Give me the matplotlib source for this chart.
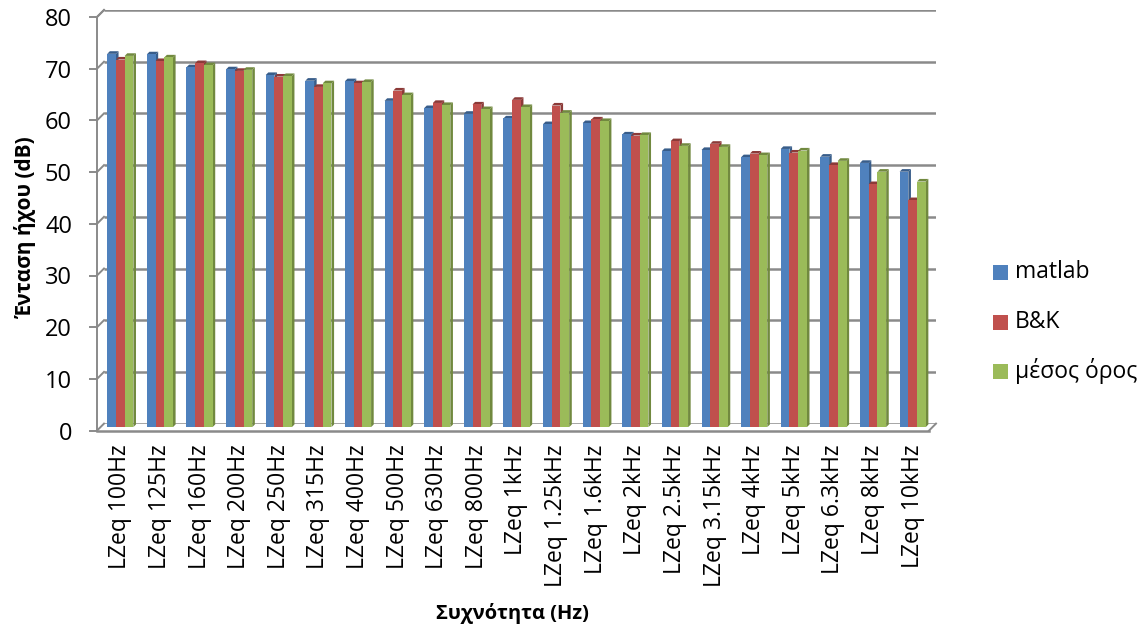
import matplotlib
matplotlib.use("Agg")
import matplotlib.pyplot as plt
from matplotlib.patches import Polygon, Rectangle
from matplotlib.transforms import ScaledTranslation

plt.rcParams['font.family'] = ['Open Sans', 'DejaVu Sans']

categories = ["LZeq 100Hz", "LZeq 125Hz", "LZeq 160Hz", "LZeq 200Hz", "LZeq 250Hz",
              "LZeq 315Hz", "LZeq 400Hz", "LZeq 500Hz", "LZeq 630Hz", "LZeq 800Hz",
              "LZeq 1kHz", "LZeq 1.25kHz", "LZeq 1.6kHz", "LZeq 2kHz", "LZeq 2.5kHz",
              "LZeq 3.15kHz", "LZeq 4kHz", "LZeq 5kHz", "LZeq 6.3kHz", "LZeq 8kHz",
              "LZeq 10kHz"]
matlab = [72.2, 72.1, 69.6, 69.2, 68.1, 67.0, 66.9, 63.1, 61.7, 60.6, 59.7,
          58.6, 58.8, 56.6, 53.4, 53.6, 52.2, 53.8, 52.3, 51.1, 49.4]
bk = [71.1, 70.8, 70.4, 68.9, 67.8, 65.8, 66.5, 65.1, 62.7, 62.4, 63.3,
      62.2, 59.5, 56.4, 55.3, 54.8, 52.9, 53.1, 50.7, 47.0, 43.9]
mesos = [71.8, 71.5, 70.0, 69.1, 67.9, 66.5, 66.75, 64.2, 62.3, 61.5, 61.9,
         60.8, 59.2, 56.5, 54.4, 54.2, 52.6, 53.5, 51.5, 49.4, 47.5]
series_names = ["matlab", "B&K", "μέσος όρος"]
yticks = list(range(0, 81, 10))

face_colors = ["#4F81BD", "#C0504D", "#9BBB59"]
dark_colors = ["#385D8A", "#8C3A38", "#71893F"]
grid_color = "#8A8A8A"

W, H = 1148, 632
fig = plt.figure(figsize=(W / 100, H / 100), dpi=100)
# back wall of the 3-D box, in pixels
bx0, bx1, by0, by1 = 104, 936, 423.6, 10
ax = fig.add_axes([bx0 / W, 1 - by0 / H, (bx1 - bx0) / W, (by0 - by1) / H])
n = len(categories)
ax.set_xlim(-0.5, n - 0.5)
ax.set_ylim(0, 80)
for s in ax.spines.values():
    s.set_visible(False)

ppx = (bx1 - bx0) / n          # pixels per category
ppy = (by0 - by1) / 80.0       # pixels per dB
depth = 7.0                    # box depth in px (right and up)
dX, dY = depth / ppx, depth / ppy

# back-wall gridlines plus their slant on the left side wall
for v in yticks:
    ax.plot([-0.5, n - 0.5], [v, v], color=grid_color, lw=1.8, zorder=1,
            solid_capstyle='butt')
    ax.plot([-0.5 - dX, -0.5], [v - dY, v], color=grid_color, lw=1.4,
            clip_on=False, zorder=1)
    # front tick marks
    ax.plot([-0.5 - dX - 7 / ppx, -0.5 - dX], [v - dY, v - dY],
            color=grid_color, lw=1.4, clip_on=False, zorder=1)

# front vertical axis and the floor outline
ax.plot([-0.5 - dX, -0.5 - dX], [-dY, 80 - dY], color=grid_color, lw=1.4,
        clip_on=False, zorder=1)
ax.plot([-0.5 - dX, -0.5], [80 - dY, 80], color=grid_color, lw=1.4,
        clip_on=False, zorder=1)
ax.plot([-0.5 - dX, n - 0.5 - dX], [-dY, -dY], color=grid_color, lw=1.8,
        clip_on=False, zorder=1)
ax.plot([n - 0.5 - dX, n - 0.5], [-dY, 0], color=grid_color, lw=1.4,
        clip_on=False, zorder=1)

# 3-D looking columns, placed half-way into the box
bw = 0.22
bd = 2.6                            # column depth in px
cdx, cdy = bd / ppx, bd / ppy
hX, hY = 3.5 / ppx, 3.5 / ppy
data = [matlab, bk, mesos]
z = 3
for i in range(n):
    for k in range(3):
        v = data[k][i]
        x0 = i + (k - 1.5) * bw - hX
        x1 = x0 + bw
        y0, y1 = -hY, v - hY
        side = Polygon([(x1, y0), (x1 + cdx, y0 + cdy), (x1 + cdx, y1 + cdy), (x1, y1)],
                       closed=True, facecolor=dark_colors[k], edgecolor='none',
                       zorder=z, clip_on=False)
        top = Polygon([(x0, y1), (x0 + cdx, y1 + cdy), (x1 + cdx, y1 + cdy), (x1, y1)],
                      closed=True, facecolor=dark_colors[k], edgecolor='none',
                      zorder=z, clip_on=False)
        front = Rectangle((x0, y0), bw, v, facecolor=face_colors[k],
                          edgecolor='none', zorder=z + 0.5, clip_on=False)
        ax.add_patch(side)
        ax.add_patch(top)
        ax.add_patch(front)
        z += 1

# tick labels
ax.set_yticks(yticks)
ax.set_yticklabels([str(t) for t in yticks], fontsize=17)
ax.tick_params(axis='y', length=0, pad=18)
for lab in ax.get_yticklabels():
    lab.set_transform(lab.get_transform() +
                      ScaledTranslation(-0.07, -0.07, fig.dpi_scale_trans))
ax.set_xticks(range(n))
ax.set_xticklabels(categories, rotation=90, fontsize=16.5)
ax.tick_params(axis='x', length=0, pad=15)
for lab in ax.get_xticklabels():
    lab.set_transform(lab.get_transform() +
                      ScaledTranslation(-0.035, 0, fig.dpi_scale_trans))
ax.grid(False)

fig.text(26 / W, 1 - 227 / H, "Ένταση ήχου (dB)", rotation=90, fontsize=15,
         fontweight='bold', ha='center', va='center')
fig.text(512 / W, 1 - 613 / H, "Συχνότητα (Hz)", fontsize=14.5,
         fontweight='bold', ha='center', va='center')

# legend
for k, (name, y) in enumerate(zip(series_names, [272, 322, 371])):
    fig.add_artist(Rectangle((993 / W, 1 - (y + 7.5) / H), 15 / W, 15 / H,
                             facecolor=face_colors[k], edgecolor='none',
                             transform=fig.transFigure))
    fig.text(1015 / W, 1 - y / H, name, fontsize=16.5, ha='left', va='center')

fig.savefig("out.png", dpi=100)
